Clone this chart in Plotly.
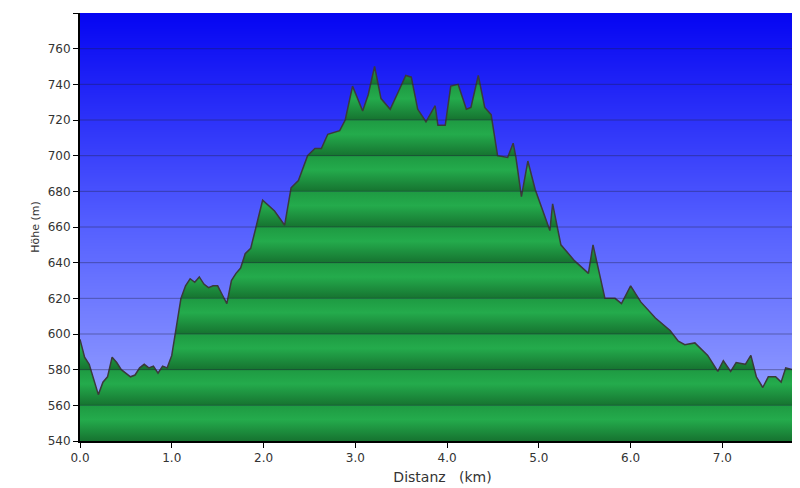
import plotly.graph_objects as go
import numpy as np

dist_km = [0.0,0.05,0.1,0.15,0.2,0.25,0.3,0.35,0.4,0.45,0.5,0.55,0.6,0.65,0.7,0.75,0.8,0.85,0.9,0.95,
           1.0,1.05,1.1,1.15,1.2,1.25,1.3,1.35,1.4,1.45,1.5,1.55,1.6,1.65,1.7,1.75,1.8,
           1.86,1.99,2.12,2.23,2.30,2.38,2.48,2.56,2.63,2.70,2.83,2.89,2.97,3.08,3.14,3.21,3.28,3.38,
           3.47,3.55,3.61,3.68,3.77,3.87,3.90,3.98,4.04,4.12,4.21,4.26,4.34,4.41,4.48,4.55,4.66,4.72,
           4.75,4.81,4.88,4.96,5.12,5.15,5.24,5.39,5.54,5.59,5.72,5.83,5.90,6.00,6.11,6.27,6.43,6.52,
           6.59,6.70,6.84,6.95,7.01,7.09,7.15,7.25,7.31,7.37,7.44,7.50,7.58,7.64,7.69,7.77,7.82,7.90]
elev_m = [597,587,583,575,566,573,576,587,584,580,578,576,577,581,583,581,582,578,582,581,
          588,605,620,627,631,629,632,628,626,627,627,622,617,630,634,637,645,
          648,675,669,661,682,686,700,704,704,712,714,720,739,725,734,750,732,726,
          736,745,744,726,719,728,717,717,739,740,726,727,745,727,723,700,699,707,
          699,677,697,681,658,673,650,641,634,650,620,620,617,627,618,609,602,596,
          594,595,588,579,585,579,584,583,588,576,570,576,576,573,581,580,577,593]

y_ticks = list(range(540, 781, 20))
x_tickvals = [0, 1, 2, 3, 4, 5, 6, 7, 7.9]
x_ticktext = ["0.0", "1.0", "2.0", "3.0", "4.0", "5.0", "6.0", "7.0", "7.9"]

# banded green colorscale: each 20 m band dark at bottom, light in the middle
light, mid, dark = "#24ab4c", "#1e9a42", "#167330"
n = len(y_ticks) - 1
cs = []
for i in range(n):
    a, b = i / n, (i + 1) / n
    cs.append([a + 1e-4 if i > 0 else 0.0, dark])
    cs.append([a + 0.6 * (b - a), light])
    cs.append([b, mid])

fig = go.Figure()
bg_y = np.linspace(540, 780, 60)
fig.add_trace(go.Heatmap(x=[0, 7.9], y=bg_y, z=[[v, v] for v in bg_y],
                         colorscale=[[0, "#a0abff"], [0.5, "#5560ff"], [1, "#0505f2"]],
                         showscale=False, hoverinfo="skip", zsmooth="best"))
fig.add_trace(go.Scatter(x=dist_km, y=elev_m, mode="lines", fill="tozeroy",
                         line=dict(color="#3a3a3a", width=1.5),
                         fillgradient=dict(type="vertical", colorscale=cs, start=540, stop=780),
                         showlegend=False))
for v in y_ticks[1:-1]:
    fig.add_shape(type="line", x0=0, x1=7.9, y0=v, y1=v, xref="x", yref="y",
                  line=dict(color="rgba(30,30,60,0.4)", width=1), layer="above")

fig.update_layout(width=800, height=488, margin=dict(l=72, r=3, t=5, b=55),
                  paper_bgcolor="white", plot_bgcolor="white",
                  font=dict(family="DejaVu Sans", size=12, color="#333"))
fig.update_xaxes(range=[0, 7.9], tickvals=x_tickvals, ticktext=x_ticktext, showgrid=False,
                 showline=True, linecolor="black", linewidth=2, ticks="outside", ticklen=5,
                 tickcolor="black", title=dict(text="Distanz   (km)", standoff=8), zeroline=False,
                 automargin=False)
fig.update_yaxes(range=[540, 780], tickvals=y_ticks, showgrid=False, showline=True,
                 linecolor="black", linewidth=2, ticks="outside", ticklen=5, tickcolor="black",
                 title=dict(text="Höhe (m)", standoff=6, font=dict(size=11)), zeroline=False,
                 automargin=False)
fig.write_html("out.html")
